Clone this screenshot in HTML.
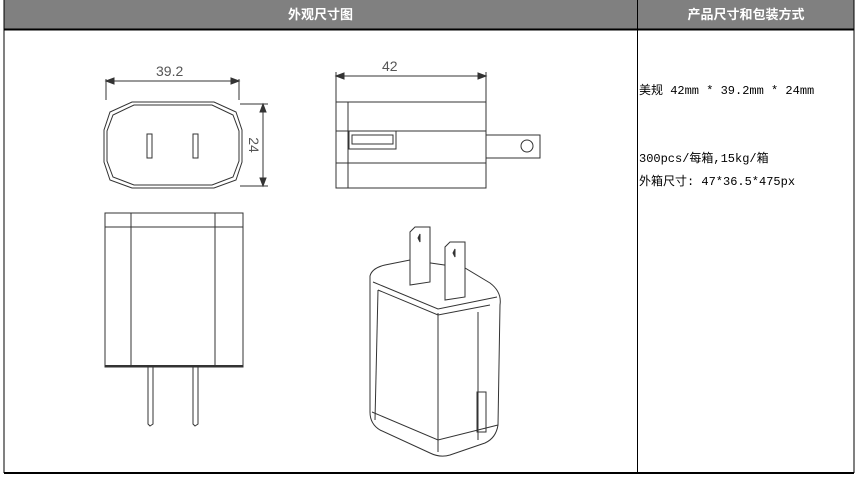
<!DOCTYPE html>
<html><head><meta charset="utf-8"><style>
body{margin:0;background:#fff;width:857px;height:481px;overflow:hidden;font-family:"Liberation Sans","Noto Sans CJK SC",sans-serif}
.h{position:absolute;top:0;height:29px;background:#808080;color:#fff;font-size:13px;font-weight:bold;text-align:center;line-height:29px}
.t{position:absolute;left:639px;font-size:12px;font-family:"Liberation Mono","Noto Sans CJK SC",monospace;color:#000;white-space:nowrap}
</style></head><body>
<div class="h" style="left:4px;width:633px">外观尺寸图</div>
<div class="h" style="left:638px;width:216px">产品尺寸和包装方式</div>
<svg width="857" height="481" style="position:absolute;left:0;top:0" fill="none" stroke="#333" stroke-width="1">
<line x1="4" y1="29.5" x2="854" y2="29.5" stroke="#000" stroke-width="2"/>
<line x1="4" y1="0" x2="4" y2="473" stroke="#000"/>
<line x1="637.5" y1="0" x2="637.5" y2="473" stroke="#000"/>
<line x1="854" y1="0" x2="854" y2="473" stroke="#000"/>
<line x1="4" y1="473" x2="854" y2="473" stroke="#000" stroke-width="2"/>
<!-- front view -->
<path d="M132 102 H214 L236 112 L242 130 V162 L236 180 L214 188 H132 L110 180 L104 162 V130 L110 112 Z"/>
<path d="M134 105 H212 L233 115 L239 131 V161 L233 177 L212 185 H134 L113 177 L107 161 V131 L113 115 Z"/>
<rect x="147" y="134" width="5" height="24"/><rect x="193" y="134" width="5" height="24"/>
<line x1="106" y1="79" x2="106" y2="100"/><line x1="239" y1="79" x2="239" y2="100"/>
<line x1="106" y1="81" x2="239" y2="81"/>
<path d="M106 81 l8 -3 v6z M239 81 l-8 -3 v6z" fill="#333"/>
<line x1="240" y1="104" x2="268" y2="104"/><line x1="240" y1="186" x2="268" y2="186"/>
<line x1="263" y1="104" x2="263" y2="186"/>
<path d="M263 104 l-3 8 h6z M263 186 l-3 -8 h6z" fill="#333"/>
<!-- side view -->
<rect x="336" y="102" width="150" height="86"/>
<line x1="348" y1="102" x2="348" y2="188"/>
<line x1="336" y1="131" x2="486" y2="131"/><line x1="336" y1="163" x2="486" y2="163"/>
<rect x="349" y="131" width="47" height="18"/><rect x="352" y="135" width="41" height="9"/>
<path d="M486 135 H540 V158 H486"/><circle cx="527" cy="146" r="6"/>
<line x1="336" y1="72" x2="336" y2="102"/><line x1="486" y1="72" x2="486" y2="102"/>
<line x1="336" y1="76" x2="486" y2="76"/>
<path d="M336 76 l8 -3 v6z M486 76 l-8 -3 v6z" fill="#333"/>
<!-- bottom-left view -->
<rect x="105" y="213" width="138" height="154"/>
<line x1="105" y1="227" x2="243" y2="227"/>
<line x1="131" y1="213" x2="131" y2="367"/><line x1="215" y1="213" x2="215" y2="367"/>
<line x1="105" y1="366" x2="243" y2="366" stroke-width="2"/>
<path d="M148 367 V424 L150 426 L153 424 V367"/><path d="M193 367 V424 L195 426 L198 424 V367"/>
<!-- 3D view -->
<path d="M370 276 Q372 268 385 265 L410 260 L465 268 L490 283 Q502 292 500 305 L498 425 Q496 438 485 443 L450 455 Q440 458 430 453 L380 430 Q370 424 370 412 Z"/>
<path d="M378 290 L438 315 L490 305"/>
<path d="M373 282 L438 309 L497 297"/>
<line x1="438" y1="313" x2="438" y2="452"/>
<line x1="378" y1="290" x2="375" y2="420"/>
<line x1="478" y1="312" x2="478" y2="440"/>
<path d="M372 412 L438 440 L498 425"/>
<rect x="477" y="392" width="9" height="40"/>
<path d="M410 285 V232 L415 227 H430 V282 Z" fill="#fff"/><path d="M445 300 V247 L450 242 H465 V297 Z" fill="#fff"/>
<path d="M418 238 l2 -4 v8z M453 253 l2 -4 v8z" fill="#333"/>
</svg>
<div style="position:absolute;left:156px;top:63px;font-size:14px;color:#555">39.2</div>
<div style="position:absolute;left:382px;top:58px;font-size:14px;color:#555">42</div>
<div style="position:absolute;left:246px;top:137px;font-size:14px;color:#555;transform:rotate(90deg)">24</div>
<div class="t" style="top:81px">美规 42mm * 39.2mm * 24mm</div>
<div class="t" style="top:149px">300pcs/每箱,15kg/箱</div>
<div class="t" style="top:172px">外箱尺寸: 47*36.5*475px</div>
</body></html>
